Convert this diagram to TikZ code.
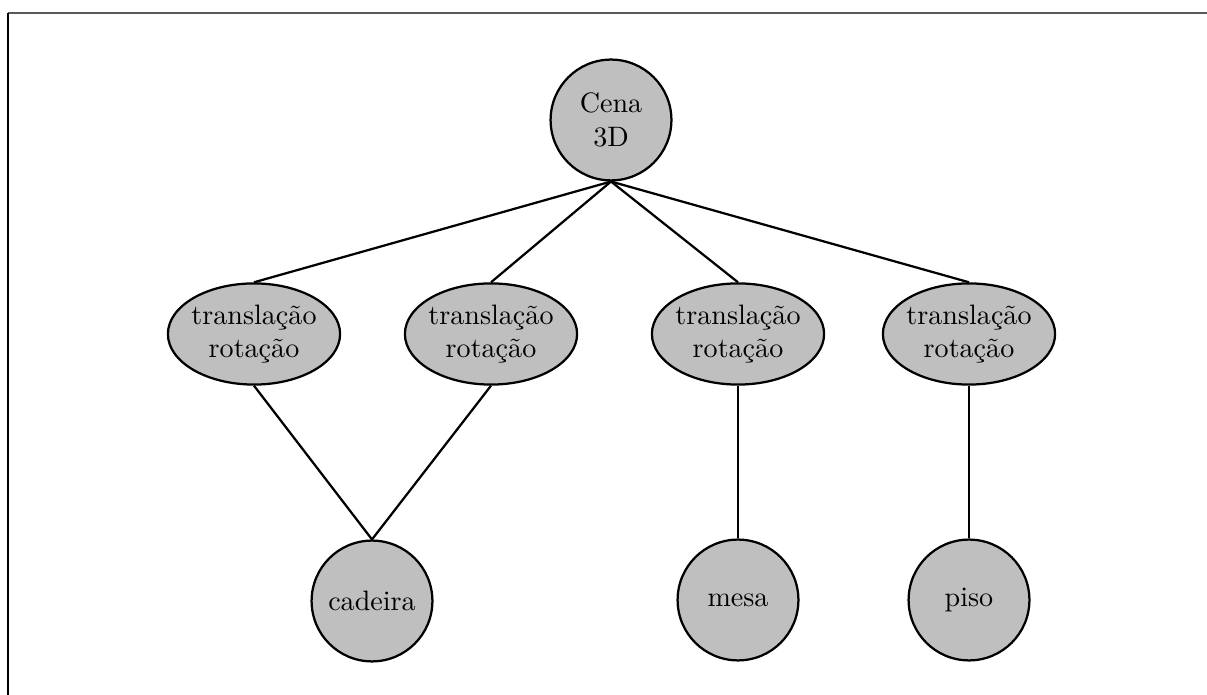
\documentclass[tikz,border=0pt]{standalone}
\usetikzlibrary{shapes.geometric}
\begin{document}
\begin{tikzpicture}[x=0.3559pt, y=-0.3559pt,
  ball/.style={circle, draw=black, line width=0.8pt, fill=lightgray,
               minimum size=43pt, inner sep=1pt, align=center},
  transf/.style={ellipse, draw=black, line width=0.8pt, fill=lightgray,
                 inner xsep=-0.6pt, inner ysep=0pt, minimum height=36pt,
                 align=center},
  link/.style={line width=0.8pt}]
  \useasboundingbox (0,0) rectangle (1207,695);
  % partial frame
  \draw[line width=0.7pt, black!65] (1207,13) -- (8,13);
  \draw[line width=0.7pt, black] (8,13) -- (8,695);

  % scene root
  \node[ball] (cena) at (611,120) {Cena\\3D};

  % transformation nodes
  \node[transf] (t1) at (254,334) {translação\\rotação};
  \node[transf] (t2) at (491,334) {translação\\rotação};
  \node[transf] (t3) at (738,334) {translação\\rotação};
  \node[transf] (t4) at (969,334) {translação\\rotação};

  % objects
  \node[ball] (cadeira) at (372,601) {cadeira};
  \node[ball] (mesa) at (738,600) {mesa};
  \node[ball] (piso) at (969,600) {piso};

  % edges
  \foreach \t in {t1,t2,t3,t4}
    \draw[link] (cena.south) -- (\t.north);
  \draw[link] (t1.south) -- (cadeira.north);
  \draw[link] (t2.south) -- (cadeira.north);
  \draw[link] (t3.south) -- (mesa.north);
  \draw[link] (t4.south) -- (piso.north);
\end{tikzpicture}
\end{document}
